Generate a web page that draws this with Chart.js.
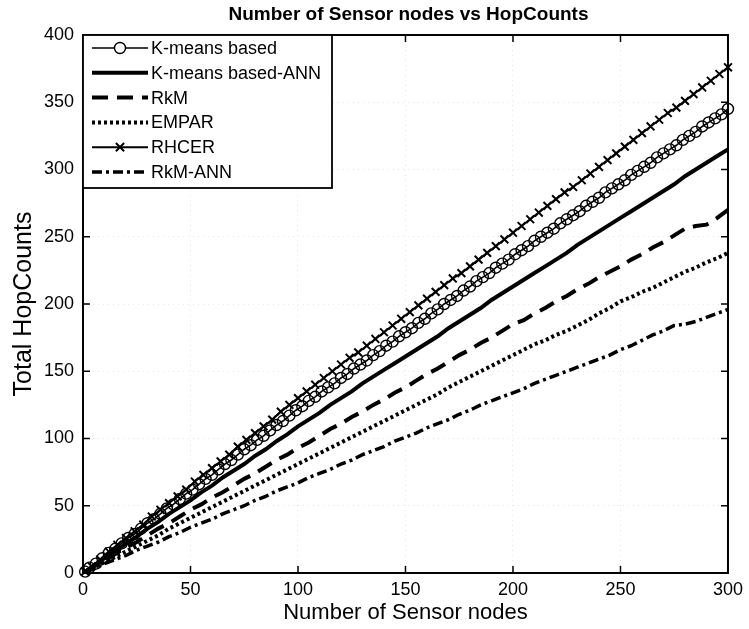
<!DOCTYPE html>
<html>
<head>
<meta charset="utf-8">
<script src="https://cdn.jsdelivr.net/npm/chart.js@4/dist/chart.umd.min.js"></script>
<style>
html,body{margin:0;padding:0;background:#fff;}
#wrap{width:749px;height:629px;position:relative;}
</style>
</head>
<body>
<div id="wrap"><canvas id="c" width="749" height="629"></canvas></div>
<script>
// x positions of the plain line series (step 5)
const nodes = [1,5,10,15,20,25,30,35,40,45,50,55,60,65,70,75,80,85,90,95,100,105,110,115,120,125,130,135,140,145,150,155,160,165,170,175,180,185,190,195,200,205,210,215,220,225,230,235,240,245,250,255,260,265,270,275,280,285,290,295,300];
// x positions of the circle-marked series (step 3)
const nodesK = [1,3,6,9,12,15,18,21,24,27,30,33,36,39,42,45,48,51,54,57,60,63,66,69,72,75,78,81,84,87,90,93,96,99,102,105,108,111,114,117,120,123,126,129,132,135,138,141,144,147,150,153,156,159,162,165,168,171,174,177,180,183,186,189,192,195,198,201,204,207,210,213,216,219,222,225,228,231,234,237,240,243,246,249,252,255,258,261,264,267,270,273,276,279,282,285,288,291,294,297,300];
// x positions of the cross-marked series (step 4)
const nodesR = [1,4,8,12,16,20,24,28,32,36,40,44,48,52,56,60,64,68,72,76,80,84,88,92,96,100,104,108,112,116,120,124,128,132,136,140,144,148,152,156,160,164,168,172,176,180,184,188,192,196,200,204,208,212,216,220,224,228,232,236,240,244,248,252,256,260,264,268,272,276,280,284,288,292,296,300];

const kmeans = [1,4,7,11,15,18,22,26,29,33,37,40,44,48,51,55,59,62,66,70,73,77,81,84,88,92,95,99,102,106,110,113,117,121,124,128,131,135,138,141,145,148,152,155,158,162,165,169,172,176,179,182,186,189,193,196,200,203,206,210,213,217,220,223,227,230,233,237,240,243,247,250,253,256,260,263,266,269,273,276,279,283,286,289,292,296,299,302,305,309,312,315,318,322,325,328,332,335,338,341,345];
const rhcer = [1,5,10,16,21,26,31,36,42,47,52,57,62,68,73,78,83,88,94,99,104,109,114,120,125,130,135,140,145,150,155,160,164,169,174,179,184,189,194,199,204,209,214,219,223,228,233,238,243,248,253,258,263,268,273,278,283,287,292,297,302,307,312,317,322,327,332,337,342,346,351,356,361,366,371,376];
const kmeansAnn = [1,5,11,16,22,27,33,38,44,49,54,60,65,71,76,81,87,92,98,103,109,114,119,125,130,135,141,146,151,156,161,166,171,176,182,187,192,197,203,208,213,218,223,228,233,238,244,249,254,259,264,269,274,279,284,289,295,300,305,310,315];
const rkm = [1,5,9,14,19,23,28,33,37,42,47,51,56,60,65,70,74,79,84,88,93,97,102,107,111,116,120,125,129,134,138,143,148,152,157,162,166,171,175,180,185,188,193,197,202,206,211,215,220,224,228,233,237,242,246,251,256,258,259,264,270];
const empar = [1,4,8,12,16,20,24,28,33,37,41,45,49,53,57,61,65,69,73,77,81,85,89,93,97,101,105,109,113,117,121,125,129,133,138,142,146,150,154,158,162,166,170,173,177,180,184,188,193,197,202,205,209,212,216,220,224,227,231,234,238];
const rkmAnn = [1,3,7,10,13,17,20,23,27,30,34,37,40,44,47,50,54,57,61,64,67,71,74,77,81,84,88,91,94,98,101,104,108,111,114,118,121,125,128,131,134,137,141,144,147,150,153,156,159,162,166,169,173,177,180,184,185,187,190,193,196];

const seriesNames = ["K-means based","K-means based-ANN","RkM","EMPAR","RHCER","RkM-ANN"];
const chartTitle = "Number of Sensor nodes vs HopCounts";
const xTitle = "Number of Sensor nodes";
const yTitle = "Total HopCounts";
const xTicks = [0,50,100,150,200,250,300];
const yTicks = [0,50,100,150,200,250,300,350,400];

const pts = (xs, arr) => arr.map((v,i)=>({x:xs[i], y:v}));
const FONT = "'Liberation Sans', Arial, sans-serif";

const styles = [
  {xs:nodesK, data:kmeans, width:1.6, dash:[], point:'circle', r:5.5, pw:1.4},
  {xs:nodes, data:kmeansAnn, width:4, dash:[], point:false},
  {xs:nodes, data:rkm, width:4, dash:[16,9], point:false},
  {xs:nodes, data:empar, width:4, dash:[3,3], point:false},
  {xs:nodesR, data:rhcer, width:2, dash:[], point:'crossRot', r:5.5, pw:2},
  {xs:nodes, data:rkmAnn, width:3.5, dash:[10,4,3,4], point:false}
];

const datasets = styles.map((s,i)=>({
  label: seriesNames[i],
  data: pts(s.xs, s.data),
  borderColor:'#000',
  backgroundColor:'transparent',
  borderWidth:s.width,
  borderDash:s.dash,
  pointStyle: s.point || 'circle',
  pointRadius: s.point ? s.r : 0,
  pointBorderWidth: s.pw || 1,
  pointBorderColor:'#000',
  pointBackgroundColor:'transparent',
  tension:0,
  clip:false,
  order: i
}));

const frame = {
  id:'frame',
  afterDraw(chart){
    const {ctx, chartArea:a, scales:{x,y}} = chart;
    ctx.save();
    ctx.strokeStyle='#000';
    ctx.lineWidth=1.5;
    const L=7;
    ctx.beginPath();
    xTicks.forEach(t=>{const px=x.getPixelForValue(t); ctx.moveTo(px,a.bottom); ctx.lineTo(px,a.bottom-L); ctx.moveTo(px,a.top); ctx.lineTo(px,a.top+L);});
    yTicks.forEach(t=>{const py=y.getPixelForValue(t); ctx.moveTo(a.left,py); ctx.lineTo(a.left+L,py); ctx.moveTo(a.right,py); ctx.lineTo(a.right-L,py);});
    ctx.stroke();
    ctx.lineWidth=2;
    ctx.strokeRect(a.left,a.top,a.right-a.left,a.bottom-a.top);
    // title centred over the plot area
    ctx.fillStyle='#000';
    ctx.font="bold 19px "+FONT;
    ctx.textAlign='center';
    ctx.textBaseline='middle';
    ctx.fillText(chartTitle,(a.left+a.right)/2+3,15);
    // legend
    const bx=a.left, by=a.top, bw=249, bh=153;
    ctx.fillStyle='#fff';
    ctx.fillRect(bx,by,bw,bh);
    ctx.lineWidth=1.8;
    ctx.strokeRect(bx,by,bw,bh);
    ctx.font="18px "+FONT;
    ctx.textBaseline='middle';
    ctx.textAlign='left';
    chart.data.datasets.forEach((d,i)=>{
      const cy = by+13+i*24.8;
      const x0=bx+9, x1=bx+65;
      ctx.save();
      ctx.lineWidth=d.borderWidth;
      ctx.setLineDash(d.borderDash);
      ctx.beginPath(); ctx.moveTo(x0,cy); ctx.lineTo(x1,cy); ctx.stroke();
      ctx.restore();
      if(d.pointRadius>0){
        ctx.save();
        ctx.lineWidth=d.pointBorderWidth;
        const mx=(x0+x1)/2, r=d.pointRadius;
        ctx.beginPath();
        if(d.pointStyle==='circle'){ctx.fillStyle='#fff';ctx.arc(mx,cy,r,0,Math.PI*2);ctx.fill();ctx.stroke();}
        else {const q=r*0.75; ctx.moveTo(mx-q,cy-q);ctx.lineTo(mx+q,cy+q);ctx.moveTo(mx+q,cy-q);ctx.lineTo(mx-q,cy+q);ctx.stroke();}
        ctx.restore();
      }
      ctx.fillStyle='#000';
      ctx.fillText(d.label, x1+3, cy+1);
    });
    ctx.restore();
  }
};

new Chart(document.getElementById('c'), {
  type:'line',
  data:{datasets},
  plugins:[frame],
  options:{
    responsive:false,
    animation:false,
    devicePixelRatio:1,
    layout:{padding:{left:0,right:17,top:35,bottom:0}},
    plugins:{
      legend:{display:false},
      tooltip:{enabled:false},
      title:{display:false}
    },
    scales:{
      x:{type:'linear',min:0,max:300,
        afterBuildTicks:s=>{s.ticks=xTicks.map(v=>({value:v}));},
        afterFit:s=>{s.height=56;},
        grid:{color:'rgba(0,0,0,0.1)',drawTicks:false,lineWidth:1},
        border:{display:false,dash:[1,4]},
        ticks:{color:'#000',padding:6,font:{family:FONT,size:18},maxRotation:0},
        title:{display:true,text:xTitle,color:'#000',font:{family:FONT,size:22},padding:{top:0,bottom:3}}
      },
      y:{type:'linear',min:0,max:400,
        afterBuildTicks:s=>{s.ticks=yTicks.map(v=>({value:v}));},
        afterFit:s=>{s.width=83;},
        grid:{color:'rgba(0,0,0,0.1)',drawTicks:false,lineWidth:1},
        border:{display:false,dash:[1,4]},
        ticks:{color:'#000',padding:9,font:{family:FONT,size:18}},
        title:{display:true,text:yTitle,color:'#000',font:{family:FONT,size:25},padding:{top:9,bottom:0}}
      }
    }
  }
});
</script>
</body>
</html>
